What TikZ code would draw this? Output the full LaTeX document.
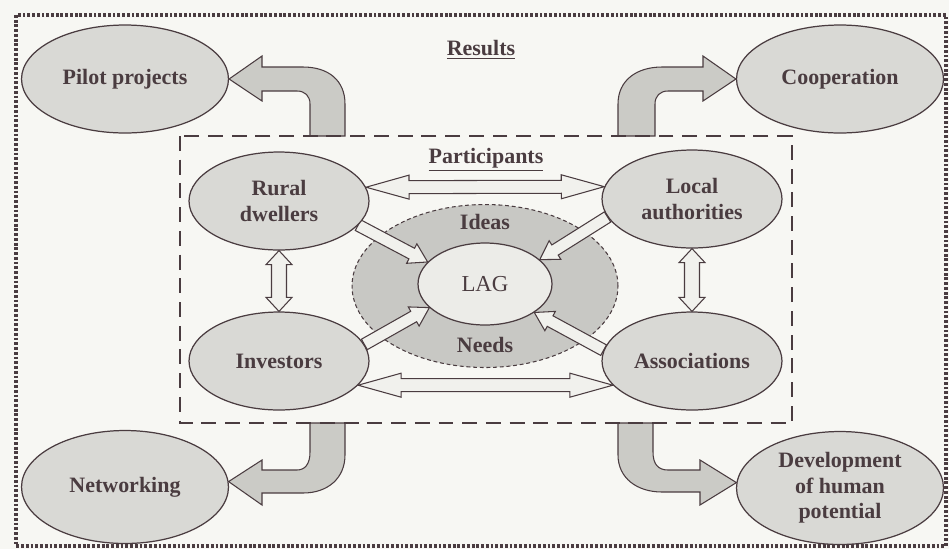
\documentclass[tikz,border=0pt]{standalone}
\usepackage{fontspec}
\setmainfont{Liberation Serif}
\usetikzlibrary{calc,shapes.geometric}
\definecolor{ink}{HTML}{4A3C40}
\definecolor{paper}{HTML}{F7F7F3}
\definecolor{bubblegray}{HTML}{D9D9D5}
\definecolor{poolgray}{HTML}{C8C8C4}
\definecolor{laggray}{HTML}{ECECE8}
\definecolor{resgray}{HTML}{CBCBC6}
\definecolor{openfill}{HTML}{F1F1ED}
\pgfdeclarelayer{bg}
\pgfdeclarelayer{mid}
\pgfsetlayers{bg,mid,main}
\newcommand{\oneway}[2]{%
\filldraw[openarrow] ($(#1)!0.12cm!90:(#2)$)
 -- ($(#2)!0.36cm!(#1)!0.12cm!90:(#2)$)
 -- ($(#2)!0.36cm!(#1)!0.22cm!90:(#2)$)
 -- (#2)
 -- ($(#2)!0.36cm!(#1)!0.22cm!-90:(#2)$)
 -- ($(#2)!0.36cm!(#1)!0.12cm!-90:(#2)$)
 -- ($(#1)!0.12cm!-90:(#2)$) -- cycle;}
\newcommand{\twoway}[5]{%
\filldraw[openarrow] (#1)
 -- ($(#1)!#5!(#2)!#4!90:(#2)$)
 -- ($(#1)!#5!(#2)!#3!90:(#2)$)
 -- ($(#2)!#5!(#1)!#3!90:(#2)$)
 -- ($(#2)!#5!(#1)!#4!90:(#2)$)
 -- (#2)
 -- ($(#2)!#5!(#1)!#4!-90:(#2)$)
 -- ($(#2)!#5!(#1)!#3!-90:(#2)$)
 -- ($(#1)!#5!(#2)!#3!-90:(#2)$)
 -- ($(#1)!#5!(#2)!#4!-90:(#2)$)
 -- cycle;}

\begin{document}
\begin{tikzpicture}[x=0.02cm,y=-0.02cm,
  bubble/.style={ellipse,draw=ink,line width=0.7pt,fill=bubblegray,inner sep=0pt,
    minimum width=3.6cm,minimum height=1.96cm,align=center,text=ink,
    font=\bfseries\fontsize{12.5}{14.5}\selectfont},
  result/.style={bubble,minimum width=4.14cm,minimum height=2.16cm},
  pool/.style={ellipse,draw=ink,dash pattern=on 2.2pt off 1.6pt,line width=0.6pt,
    fill=poolgray,minimum width=5.32cm,minimum height=3.26cm},
  heading/.style={text=ink,font=\bfseries\fontsize{12.5}{14.5}\selectfont},
  openarrow/.style={draw=ink,fill=openfill,line width=0.6pt,line join=miter},
  resarrow/.style={draw=ink,fill=resgray,line width=0.6pt}]
\node[result] (pilot) at (125,79) {Pilot projects};
\node[result] (coop) at (840,79) {Cooperation};
\node[result,minimum height=2.26cm] (net) at (125,487) {Networking};
\node[result,minimum height=2.26cm] (dev) at (840,488) {Development\\of human\\potential};
\node[bubble] (rural) at (279,201) {Rural\\dwellers};
\node[bubble] (local) at (692,199) {Local\\authorities};
\node[bubble] (invest) at (279,361) {Investors};
\node[bubble] (assoc) at (692,361) {Associations};
\node[ellipse,draw=ink,line width=0.7pt,fill=laggray,minimum width=2.68cm,minimum height=1.64cm,
  text=ink,font=\fontsize{13}{15}\selectfont] (lag) at (485,284) {LAG};
\node[heading] (results) at (481,50) {\underline{Results}};
\node[heading] (partic) at (486,160) {\underline{Participants}};
\node[heading] (ideas) at (485,222) {Ideas};
\node[heading] (needs) at (485,345) {Needs};
\draw[ink,line width=1.1pt,dash pattern=on 8.5pt off 5pt] (180,136) rectangle (792,423);
\draw[ink,line width=2pt,dash pattern=on 1.6pt off 1.1pt] (16,15) rectangle (946,546);
\begin{pgfonlayer}{bg}
\fill[paper] (0,0) rectangle (949,549);
\node[pool] (pool) at (485,286) {};
\filldraw[resarrow] (310,136) -- (310,104) .. controls (310,96) and (305,91) .. (297,91) -- (262,91)
  -- (262,101) -- (pilot.east) -- (262,56) -- (262,67) -- (303,67)
  .. controls (328,67) and (345,80) .. (345,104) -- (345,136) -- cycle;
\filldraw[resarrow] (655,136) -- (655,104) .. controls (655,96) and (660,91) .. (668,91) -- (703,91)
  -- (703,101) -- (coop.west) -- (703,56) -- (703,67) -- (662,67)
  .. controls (637,67) and (618,80) .. (618,104) -- (618,136) -- cycle;
\filldraw[resarrow] (310,423) -- (310,452) .. controls (310,464) and (305,470) .. (297,470) -- (262,470)
  -- (262,460) -- (net.3) -- (262,505) -- (262,493) -- (303,493)
  .. controls (328,493) and (345,478) .. (345,455) -- (345,423) -- cycle;
\filldraw[resarrow] (653,423) -- (653,452) .. controls (653,464) and (658,470) .. (668,470) -- (700,470)
  -- (700,460) -- (dev.177) -- (700,505) -- (700,492) -- (662,492)
  .. controls (637,492) and (618,478) .. (618,455) -- (618,423) -- cycle;
\end{pgfonlayer}
\begin{pgfonlayer}{mid}
\twoway{rural.9}{local.172}{0.13cm}{0.24cm}{0.86cm}
\twoway{invest.343}{assoc.197}{0.13cm}{0.24cm}{0.86cm}
\twoway{rural.south}{invest.north}{0.15cm}{0.26cm}{0.28cm}
\twoway{local.south}{assoc.north}{0.15cm}{0.26cm}{0.28cm}
\oneway{rural.343}{lag.159}
\oneway{local.192}{lag.24}
\oneway{invest.11}{lag.203}
\oneway{assoc.173}{lag.330}
\end{pgfonlayer}
\end{tikzpicture}
\end{document}
